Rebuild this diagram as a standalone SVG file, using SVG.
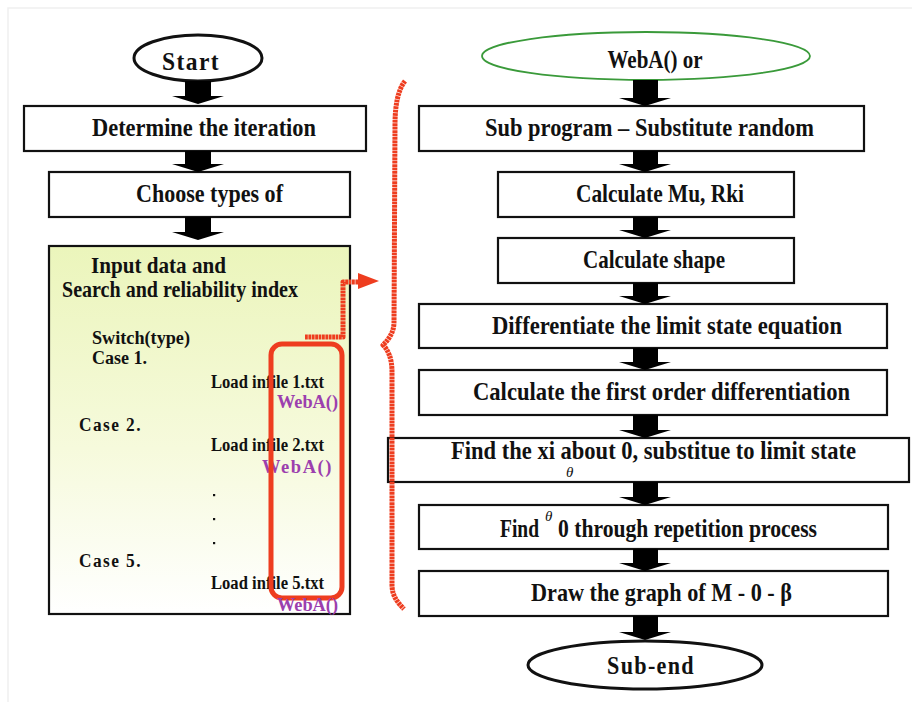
<svg xmlns="http://www.w3.org/2000/svg" width="912" height="702" viewBox="0 0 912 702">
<defs>
<linearGradient id="yel" x1="0" y1="0" x2="0" y2="1">
<stop offset="0" stop-color="#ebf5bb"/>
<stop offset="0.55" stop-color="#f6fadc"/>
<stop offset="1" stop-color="#ffffff"/>
</linearGradient>
<style>
.box{fill:#fff;stroke:#111;stroke-width:2.2}
.ell{fill:#fff;stroke:#111;stroke-width:3}
.t{font-family:"Liberation Serif","Times New Roman",serif;font-weight:bold;fill:#111}
.m{text-anchor:middle}
.big{font-size:25px}
.mid{font-size:23px}
.sm{font-size:18px}
.pur{fill:#9c3fae}
.arr{fill:#000}
.red{fill:none;stroke:#ee3d1f;stroke-linecap:butt;stroke-linejoin:round}
.dot{stroke-width:5;stroke-dasharray:2.8 0.6}
.th{font-family:"Liberation Serif","DejaVu Serif",serif;font-style:italic;font-weight:normal;font-size:15px;fill:#111}
</style>
</defs>
<rect x="0" y="0" width="912" height="702" fill="#fff"/>
<path d="M8,702 V8 H912" fill="none" stroke="#f0f0f0" stroke-width="1.5"/>

<g id="start">
<ellipse class="ell" cx="198" cy="58" rx="64" ry="23"/>
<text class="t big m" x="191" y="70" textLength="58" lengthAdjust="spacingAndGlyphs" letter-spacing="1.5">Start</text>
</g>
<g id="determine">
<rect class="box" x="24" y="106" width="342" height="45"/>
<text class="t big" x="92" y="136" textLength="224" lengthAdjust="spacingAndGlyphs">Determine the iteration</text>
</g>
<g id="choose">
<rect class="box" x="49" y="172" width="301" height="45"/>
<text class="t big" x="136" y="202" textLength="147" lengthAdjust="spacingAndGlyphs">Choose types of</text>
</g>
<g id="input">
<rect x="49" y="246" width="301" height="368" fill="url(#yel)" stroke="#111" stroke-width="2.2"/>
<text class="t mid" x="91" y="273" textLength="135" lengthAdjust="spacingAndGlyphs">Input data and</text>
<text class="t mid" x="62" y="297" textLength="236" lengthAdjust="spacingAndGlyphs">Search and reliability index</text>
<text class="t sm" x="92" y="344" textLength="98" lengthAdjust="spacingAndGlyphs">Switch(type)</text>
<text class="t sm" x="92" y="364" textLength="55" lengthAdjust="spacingAndGlyphs">Case 1.</text>
<text class="t sm" x="211" y="388" textLength="113" lengthAdjust="spacingAndGlyphs">Load infile 1.txt</text>
<text class="t sm pur" x="277" y="408" textLength="61" lengthAdjust="spacingAndGlyphs">WebA()</text>
<text class="t sm" x="79" y="431" textLength="63" lengthAdjust="spacingAndGlyphs" letter-spacing="1.5">Case 2.</text>
<text class="t sm" x="211" y="451" textLength="113" lengthAdjust="spacingAndGlyphs">Load infile 2.txt</text>
<text class="t sm pur" x="262" y="473" textLength="71" lengthAdjust="spacingAndGlyphs" letter-spacing="1.5">WebA()</text>
<rect x="213" y="494" width="2.2" height="2.2" fill="#111"/>
<rect x="213" y="518" width="2.2" height="2.2" fill="#111"/>
<rect x="213" y="542" width="2.2" height="2.2" fill="#111"/>
<text class="t sm" x="79" y="567" textLength="63" lengthAdjust="spacingAndGlyphs" letter-spacing="1.5">Case 5.</text>
<text class="t sm" x="211" y="589" textLength="113" lengthAdjust="spacingAndGlyphs">Load infile 5.txt</text>
<rect x="271" y="344" width="71" height="254" rx="11" fill="none" stroke="#ee3d1f" stroke-width="5"/>
<text class="t sm pur" x="277" y="611" textLength="61" lengthAdjust="spacingAndGlyphs">WebA()</text>
</g>

<g id="weba">
<ellipse cx="646" cy="56" rx="164" ry="24" fill="#fff" stroke="#3a9a3a" stroke-width="1.8"/>
<text class="t big m" x="655" y="68" textLength="95" lengthAdjust="spacingAndGlyphs">WebA() or</text>
</g>
<g id="subprogram">
<rect class="box" x="419" y="106" width="445" height="45"/>
<text class="t big" x="485" y="136" textLength="329" lengthAdjust="spacingAndGlyphs">Sub program – Substitute random</text>
</g>
<g id="mu">
<rect class="box" x="498" y="172" width="296" height="45"/>
<text class="t big" x="576" y="202" textLength="168" lengthAdjust="spacingAndGlyphs">Calculate Mu, Rki</text>
</g>
<g id="shape">
<rect class="box" x="498" y="238" width="296" height="45"/>
<text class="t big" x="583" y="268" textLength="142" lengthAdjust="spacingAndGlyphs">Calculate shape</text>
</g>
<g id="differentiate">
<rect class="box" x="419" y="304" width="468" height="44"/>
<text class="t big" x="492" y="334" textLength="350" lengthAdjust="spacingAndGlyphs">Differentiate the limit state equation</text>
</g>
<g id="firstorder">
<rect class="box" x="419" y="370" width="468" height="45"/>
<text class="t big" x="473" y="400" textLength="377" lengthAdjust="spacingAndGlyphs">Calculate the first order differentiation</text>
</g>
<g id="findxi">
<rect class="box" x="388" y="438" width="521" height="44"/>
<text class="t big" x="451" y="459" textLength="405" lengthAdjust="spacingAndGlyphs">Find the xi about 0, substitue to limit state</text>
<text class="th" x="566" y="477">θ</text>
</g>
<g id="findtheta">
<rect class="box" x="419" y="505" width="469" height="44"/>
<text class="t big" transform="translate(500,537) scale(0.78,1)" x="0" y="0">Find</text>
<text class="th" x="545" y="521">θ</text>
<text class="t big" x="558" y="537" textLength="259" lengthAdjust="spacingAndGlyphs">0 through repetition process</text>
</g>
<g id="drawgraph">
<rect class="box" x="419" y="571" width="469" height="45"/>
<text class="t big" x="531" y="601" textLength="261" lengthAdjust="spacingAndGlyphs">Draw the graph of M - 0 - β</text>
</g>
<g id="subend">
<ellipse class="ell" cx="645" cy="665" rx="117" ry="24"/>
<text class="t big m" x="651" y="674" textLength="88" lengthAdjust="spacingAndGlyphs" letter-spacing="1.5">Sub-end</text>
</g>

<g id="connectors">
<path class="arr" d="M185,81 H211 V96 H224 L198,104 L172,96 H185 Z"/>
<path class="arr" d="M185,151 H211 V164 H224 L198,172 L172,164 H185 Z"/>
<path class="arr" d="M185,217 H211 V232 H224 L198,240 L172,232 H185 Z"/>
<path class="arr" d="M633,80 H658 V98 H671 L645,106 L619,98 H633 Z"/>
<path class="arr" d="M633,151 H658 V164 H671 L645,172 L619,164 H633 Z"/>
<path class="arr" d="M633,217 H658 V230 H671 L645,238 L619,230 H633 Z"/>
<path class="arr" d="M633,283 H658 V296 H671 L645,304 L619,296 H633 Z"/>
<path class="arr" d="M633,348 H658 V362 H671 L645,370 L619,362 H633 Z"/>
<path class="arr" d="M633,415 H658 V430 H671 L645,438 L619,430 H633 Z"/>
<path class="arr" d="M633,482 H658 V497 H671 L645,505 L619,497 H633 Z"/>
<path class="arr" d="M633,549 H658 V563 H671 L645,571 L619,563 H633 Z"/>
<path class="arr" d="M633,616 H658 V632 H671 L645,640 L619,632 H633 Z"/>
<path class="red dot" d="M305,337 H343 V282 H360"/>
<path d="M358,273 L379,281 L358,289 Z" fill="#ee3d1f"/>
<path class="red dot" d="M405,81 C398,90 395,105 395,125 L394,322 C394,333 388,340 383,345 C388,350 392,358 392,372 L392,585 C392,596 398,603 404,609"/>
</g>
</svg>
